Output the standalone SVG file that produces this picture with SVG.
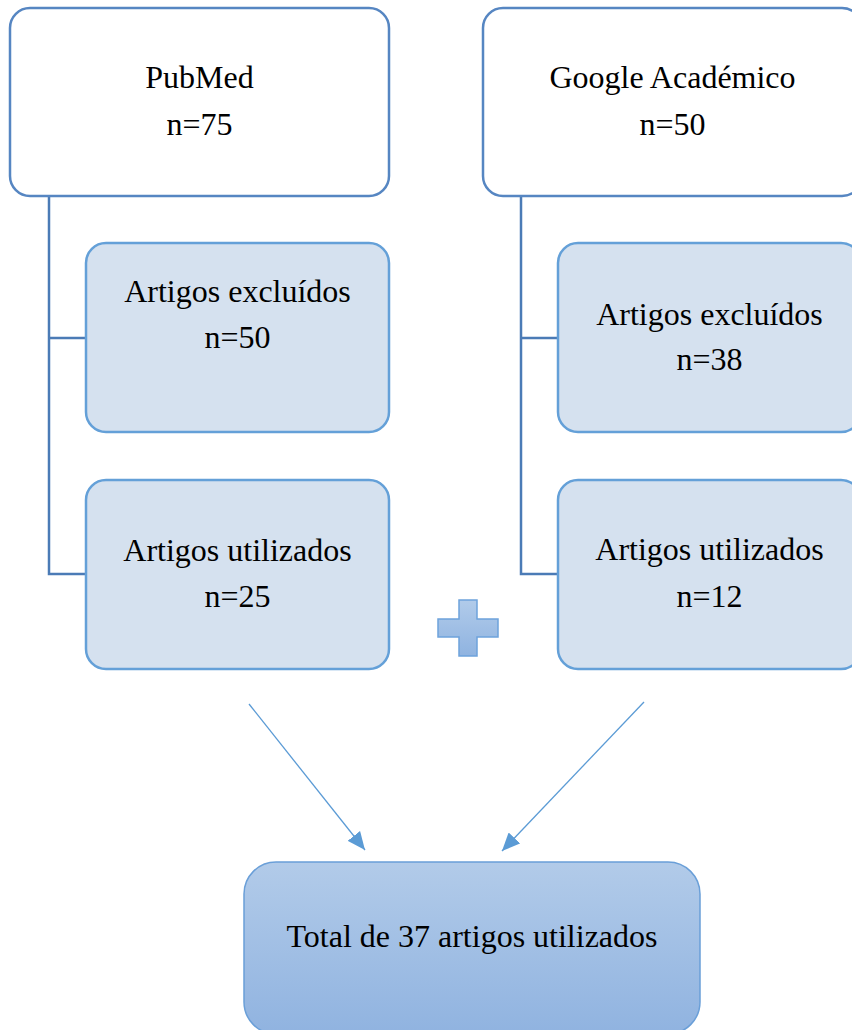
<svg xmlns="http://www.w3.org/2000/svg" width="852" height="1030" viewBox="0 0 852 1030">
<style>
.t{font-family:"Liberation Serif","Times New Roman",serif;font-size:32px;fill:#000;text-anchor:middle}
.src{fill:#fff;stroke:#5686c2;stroke-width:2.5}
.sub{fill:#d5e1ef;stroke:#64a0d8;stroke-width:2.5}
.con{fill:none;stroke:#4b7bb6;stroke-width:2.5}
.arr{fill:none;stroke:#5b9bd5;stroke-width:1.3}
</style>
<defs>
<linearGradient id="gt" x1="0" y1="0" x2="0" y2="1">
<stop offset="0" stop-color="#b2cbe9"/>
<stop offset="1" stop-color="#90b3e0"/>
</linearGradient>
<linearGradient id="gp" x1="0" y1="0" x2="0" y2="1">
<stop offset="0" stop-color="#b1cbea"/>
<stop offset="1" stop-color="#8fb3e0"/>
</linearGradient>
<marker id="ah" viewBox="0 0 10 10" refX="10" refY="5" markerWidth="10" markerHeight="10" markerUnits="userSpaceOnUse" orient="auto">
<path d="M0,0 L10,5 L0,10 z" fill="#5b9bd5"/>
</marker>
<marker id="ah2" viewBox="0 0 18 16" refX="18" refY="8" markerWidth="18" markerHeight="16" markerUnits="userSpaceOnUse" orient="auto">
<path d="M0,0 L18,8 L0,16 z" fill="#5b9bd5"/>
</marker>
</defs>
<rect width="852" height="1030" fill="#fff"/>
<g id="connectors">
<path class="con" d="M49,196 V574 H86 M49,338 H86"/>
<path class="con" d="M521,196 V574 H558 M521,338 H558"/>
<line class="arr" x1="249" y1="704" x2="365" y2="850" marker-end="url(#ah2)"/>
<line class="arr" x1="644" y1="702" x2="502" y2="851" marker-end="url(#ah2)"/>
</g>
<g id="pubmed">
<rect class="src" x="10" y="8" width="379" height="188" rx="20"/>
<text class="t" x="199.5" y="88">PubMed</text>
<text class="t" x="199.5" y="135">n=75</text>
</g>
<g id="google">
<rect class="src" x="483" y="8" width="379" height="188" rx="20"/>
<text class="t" x="672.5" y="88">Google Académico</text>
<text class="t" x="672.5" y="135">n=50</text>
</g>
<g id="pub-excl">
<rect class="sub" x="86" y="243" width="303" height="189" rx="20"/>
<text class="t" x="237.5" y="302">Artigos excluídos</text>
<text class="t" x="237.5" y="348">n=50</text>
</g>
<g id="pub-util">
<rect class="sub" x="86" y="480" width="303" height="189" rx="20"/>
<text class="t" x="237.5" y="561">Artigos utilizados</text>
<text class="t" x="237.5" y="607">n=25</text>
</g>
<g id="goo-excl">
<rect class="sub" x="558" y="243" width="303" height="189" rx="20"/>
<text class="t" x="709.5" y="325">Artigos excluídos</text>
<text class="t" x="709.5" y="370">n=38</text>
</g>
<g id="goo-util">
<rect class="sub" x="558" y="480" width="303" height="189" rx="20"/>
<text class="t" x="709.5" y="560">Artigos utilizados</text>
<text class="t" x="709.5" y="607">n=12</text>
</g>
<g id="plus">
<path d="M459,600 H477 V619 H498 V637 H477 V656 H459 V637 H438 V619 H459 z" fill="url(#gp)" stroke="#6ea3dc" stroke-width="1.5"/>
</g>
<g id="total">
<rect x="244" y="862" width="456" height="172" rx="32" fill="url(#gt)" stroke="#6a9fd8" stroke-width="1.5"/>
<text class="t" x="472" y="947">Total de 37 artigos utilizados</text>
</g>
</svg>
